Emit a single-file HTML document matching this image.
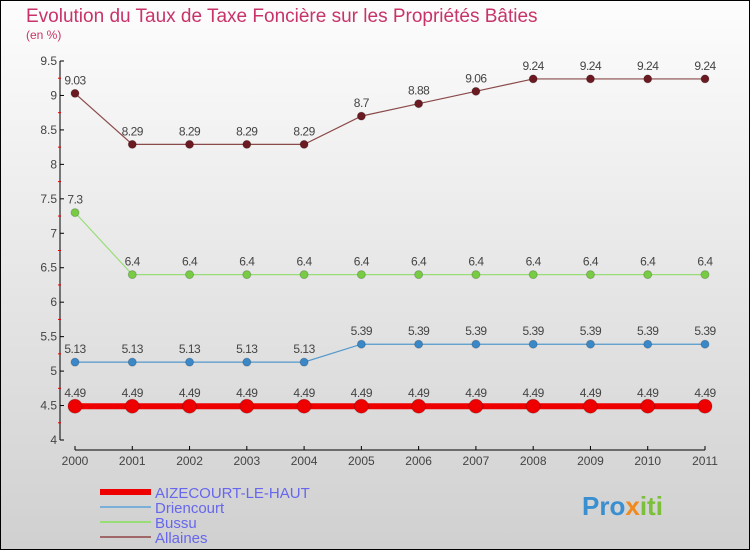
<!DOCTYPE html>
<html><head><meta charset="utf-8"><style>
body{margin:0}
#c{position:relative;width:750px;height:550px;overflow:hidden}
text{font-family:"Liberation Sans",sans-serif}
</style></head><body>
<div id="c">
<svg id="s" width="750" height="550" xmlns="http://www.w3.org/2000/svg">
<defs><linearGradient id="bg" x1="0" y1="0" x2="0" y2="1"><stop offset="0" stop-color="#fdfdfd"/><stop offset="1" stop-color="#d0d0d0"/></linearGradient></defs>
<rect x="0.5" y="0.5" width="749" height="549" fill="url(#bg)" stroke="#000"/>
<text x="26" y="22" font-size="19" fill="#c8336a">Evolution du Taux de Taxe Foncière sur les Propriétés Bâties</text>
<text x="26" y="39" font-size="12" fill="#c8336a">(en %)</text>
<g id="axes"></g><g id="series"></g>
<text x="582" y="515" font-size="26" font-weight="bold" fill="#3a8fd0">Pro<tspan fill="#f08a1c">x</tspan><tspan fill="#7bbf3a">iti</tspan></text>
</svg></div>
<script>
const years=[2000,2001,2002,2003,2004,2005,2006,2007,2008,2009,2010,2011];
const yTicks=[4,4.5,5,5.5,6,6.5,7,7.5,8,8.5,9,9.5];
const aizecourt=[4.49,4.49,4.49,4.49,4.49,4.49,4.49,4.49,4.49,4.49,4.49,4.49];
const driencourt=[5.13,5.13,5.13,5.13,5.13,5.39,5.39,5.39,5.39,5.39,5.39,5.39];
const bussu=[7.3,6.4,6.4,6.4,6.4,6.4,6.4,6.4,6.4,6.4,6.4,6.4];
const allaines=[9.03,8.29,8.29,8.29,8.29,8.7,8.88,9.06,9.24,9.24,9.24,9.24];
const NS="http://www.w3.org/2000/svg";
const x=i=>75+i*(630/(years.length-1));
const y=v=>440-(v-4)*(379/5.5);
function el(t,a,p){const e=document.createElementNS(NS,t);for(const k in a)e.setAttribute(k,a[k]);p.appendChild(e);return e;}
const ax=document.getElementById('axes');
let l=el('line',{x1:60,y1:61,x2:60,y2:440,stroke:'#000'},ax);


l=el('line',{x1:75,y1:450,x2:705,y2:450,stroke:'#000'},ax);


yTicks.forEach(v=>{
 el('line',{x1:60,y1:y(v),x2:64,y2:y(v),stroke:'#000'},ax);
 if(v<9.5)el('line',{x1:58,y1:y(v+0.25),x2:61,y2:y(v+0.25),stroke:'#e00'},ax);
 const t=el('text',{x:57,y:y(v)+4,'font-size':12,'text-anchor':'end',fill:'#444'},ax);
 t.textContent=v;
 
 
});
years.forEach((yr,i)=>{
 el('line',{x1:x(i),y1:446,x2:x(i),y2:450,stroke:'#000'},ax);
 const t=el('text',{x:x(i),y:465,'font-size':12,'text-anchor':'middle',fill:'#444'},ax);
 t.textContent=yr;
 
 
});
const sg=document.getElementById('series');
function series(name,data,color,dot,w,r){
 const g=el('g',{},sg);
 
 
 const p=el('polyline',{points:data.map((v,i)=>x(i)+','+y(v)).join(' '),fill:'none',stroke:color,'stroke-width':w},g);
 
 
 data.forEach((v,i)=>{
  const c=el('circle',{cx:x(i),cy:y(v),r:r,fill:dot,stroke:'#0003'},g);
  
  
  const t=el('text',{x:x(i),y:y(v)-9,'font-size':12,'text-anchor':'middle',fill:'#444','letter-spacing':'-0.5'},g);
  t.textContent=v;
  
  
 });
}
series('allaines',allaines,'#8b4a4a','#6b1a22',1.2,4);
series('bussu',bussu,'#99dd77','#77cc44',1.2,4);
series('driencourt',driencourt,'#5599cc','#3a88c8',1.2,4);
series('aizecourt',aizecourt,'#ee0000','#ee0000',6,7);
const leg=[['AIZECOURT-LE-HAUT','#ee0000',6],['Driencourt','#7ab0d8',2],['Bussu','#99dd77',2],['Allaines','#a06868',2]];
leg.forEach((d,i)=>{
 const yy=492+i*15;
 const g=el('g',{},sg);
 
 
 el('line',{x1:100,y1:yy,x2:151,y2:yy,stroke:d[1],'stroke-width':d[2]},g);
 const t=el('text',{x:155,y:yy+6,'font-size':15,fill:'#6666ee'},g);
 t.textContent=d[0];
 
 
});
</script>
</body></html>
